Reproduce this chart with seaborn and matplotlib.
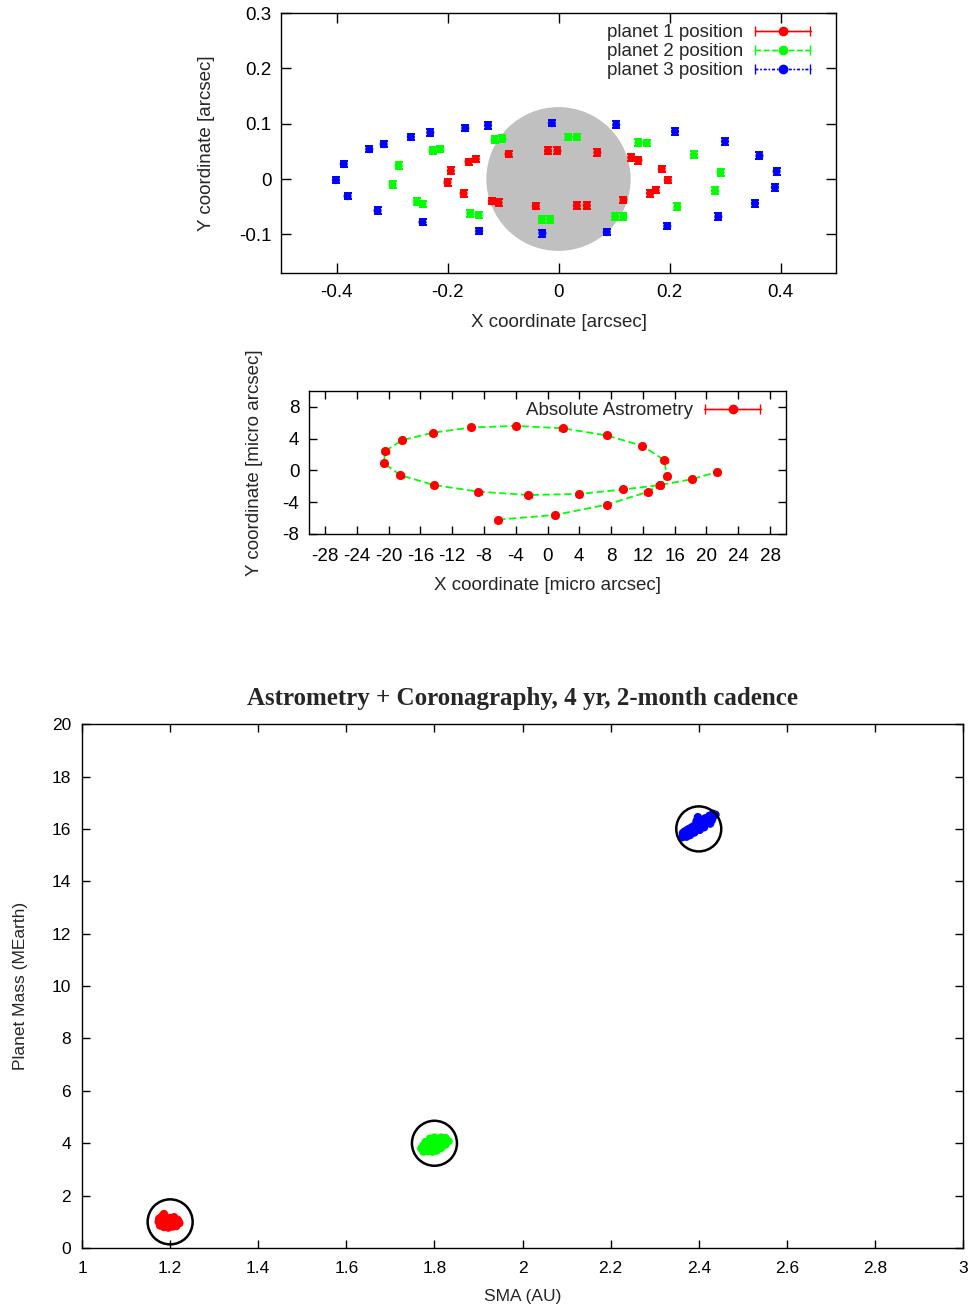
import numpy as np
import pandas as pd
import matplotlib
matplotlib.use("Agg")
import matplotlib.pyplot as plt
import seaborn as sns
from matplotlib.patches import Circle
from matplotlib.ticker import FormatStrFormatter
from matplotlib.container import ErrorbarContainer
from matplotlib.legend_handler import HandlerErrorbar

# ---------------- data: top panel (positions in arcsec) ----------------
p1_x = [-0.090, -0.162, -0.149, -0.194, -0.200, -0.171, -0.120, -0.108, -0.041, -0.019, -0.002,
        0.070, 0.131, 0.144, 0.186, 0.197, 0.165, 0.175, 0.117, 0.033, 0.051]
p1_y = [0.045, 0.031, 0.036, 0.015, -0.006, -0.026, -0.040, -0.043, -0.049, 0.051, 0.051,
        0.048, 0.039, 0.034, 0.018, -0.002, -0.026, -0.020, -0.038, -0.048, -0.048]
p2_x = [-0.227, -0.213, -0.288, -0.299, -0.255, -0.245, -0.159, -0.144, -0.115, -0.101, -0.030,
        -0.015, 0.018, 0.033, 0.144, 0.159, 0.244, 0.292, 0.282, 0.214, 0.102, 0.117]
p2_y = [0.051, 0.054, 0.024, -0.010, -0.041, -0.045, -0.062, -0.065, 0.071, 0.073, -0.073,
        -0.073, 0.076, 0.076, 0.066, 0.065, 0.044, 0.012, -0.021, -0.050, -0.068, -0.068]
p3_x = [-0.401, -0.387, -0.380, -0.341, -0.315, -0.326, -0.266, -0.231, -0.245, -0.168, -0.127,
        -0.143, -0.012, -0.029, 0.104, 0.210, 0.300, 0.362, 0.393, 0.390, 0.354, 0.288, 0.196, 0.087]
p3_y = [-0.002, 0.027, -0.031, 0.054, 0.063, -0.057, 0.076, 0.084, -0.078, 0.092, 0.097,
        -0.094, 0.101, -0.098, 0.098, 0.086, 0.068, 0.042, 0.014, -0.015, -0.044, -0.068, -0.085, -0.096]
pos_err = 0.006
planet_labels = ["planet 1 position", "planet 2 position", "planet 3 position"]

# ---------------- data: middle panel (micro arcsec) ----------------
abs_x = [-6.2, 0.97, 7.5, 12.6, 14.1, 15.0, 14.7, 11.9, 7.45, 1.9, -4.0, -9.6, -14.4, -18.3,
         -20.4, -20.6, -18.5, -14.3, -8.7, -2.4, 4.0, 9.5, 14.1, 18.2, 21.3]
abs_y = [-6.2, -5.6, -4.3, -2.7, -1.85, -0.7, 1.3, 3.1, 4.4, 5.3, 5.6, 5.4, 4.75, 3.8,
         2.45, 0.9, -0.6, -1.84, -2.67, -3.1, -2.96, -2.4, -1.85, -1.1, -0.2]
abs_err_x = 0.4
abs_err_y = 0.35

# ---------------- data: bottom panel (posterior samples) ----------------
red_sma = [1.174, 1.181, 1.190, 1.200, 1.209, 1.217, 1.221, 1.177, 1.186, 1.196, 1.206,
           1.214, 1.219, 1.175, 1.184, 1.194, 1.204, 1.212, 1.186, 1.196, 1.208, 1.182]
red_mass = [1.00, 1.12, 1.17, 1.15, 1.18, 1.08, 0.95, 0.86, 0.80, 0.78, 0.82,
            0.84, 1.02, 1.12, 1.00, 0.95, 1.05, 0.92, 1.30, 0.88, 1.10, 1.22]
green_sma = [1.770, 1.775, 1.785, 1.795, 1.805, 1.815, 1.825, 1.832, 1.825, 1.815, 1.800,
             1.790, 1.780, 1.775, 1.790, 1.800, 1.810, 1.795, 1.810, 1.820, 1.785]
green_mass = [3.80, 3.68, 3.70, 3.68, 3.72, 3.82, 3.95, 4.08, 4.20, 4.22, 4.22,
              4.18, 4.05, 3.92, 3.90, 3.95, 4.05, 3.80, 3.85, 4.10, 4.02]
blue_sma = [2.362, 2.370, 2.378, 2.386, 2.395, 2.404, 2.414, 2.424, 2.432, 2.438, 2.372,
            2.382, 2.392, 2.402, 2.412, 2.422, 2.430, 2.368, 2.378, 2.390, 2.400, 2.410,
            2.420, 2.395, 2.398, 2.432, 2.364, 2.374, 2.384, 2.394, 2.404, 2.414,
            2.424, 2.380, 2.390, 2.402, 2.412, 2.426]
blue_mass = [15.68, 15.80, 15.90, 15.98, 16.08, 16.18, 16.28, 16.38, 16.46, 16.54, 15.70,
             15.82, 15.94, 16.06, 16.16, 16.26, 16.34, 15.90, 16.00, 16.12, 16.24, 16.34,
             16.42, 16.30, 16.45, 16.58, 15.84, 15.96, 16.06, 16.18, 16.30, 16.40,
             16.50, 15.76, 15.86, 15.96, 16.06, 16.20]
true_sma = [1.2, 1.8, 2.4]
true_mass = [1.0, 4.0, 16.0]

# ---------------- style ----------------
sns.set_theme(style="ticks")
plt.rcParams["font.family"] = ["Liberation Sans", "DejaVu Sans"]
plt.rcParams["axes.unicode_minus"] = False
plt.rcParams["axes.edgecolor"] = "black"
plt.rcParams["axes.linewidth"] = 1.0

RED, GREEN, BLUE = "#ff0000", "#00ff00", "#0000ff"
FS = 13.5
FSB = 12.5

fig = plt.figure(figsize=(9.73, 13.04), dpi=100)
ax1 = fig.add_axes([0.2888, 0.7906, 0.5704, 0.1994])
ax2 = fig.add_axes([0.3176, 0.5905, 0.4902, 0.1097])
ax3 = fig.add_axes([0.0843, 0.0429, 0.9055, 0.4018])


def style_ticks(ax, fs, length=6, xpad=8, ypad=7):
    ax.tick_params(direction="in", top=True, right=True, length=length, width=1.0,
                   labelsize=fs, colors="black")
    ax.tick_params(axis="x", pad=xpad)
    ax.tick_params(axis="y", pad=ypad)
    for s in ax.spines.values():
        s.set_visible(True)
        s.set_color("black")
        s.set_linewidth(1.0)


# ---------------- top panel ----------------
ax1.add_patch(Circle((0, 0), 0.13, facecolor="#c0c0c0", edgecolor="none", zorder=0))
top_df = pd.DataFrame({
    "x": p1_x + p2_x + p3_x,
    "y": p1_y + p2_y + p3_y,
    "planet": [planet_labels[0]] * len(p1_x) + [planet_labels[1]] * len(p2_x) + [planet_labels[2]] * len(p3_x),
})
colors = [RED, GREEN, BLUE]
styles = ["-", (0, (4, 2)), (0, (2, 1.5, 1, 1.5))]
handles = []
for lab, col, ls in zip(planet_labels, colors, styles):
    sub = top_df[top_df["planet"] == lab]
    ax1.errorbar(sub["x"], sub["y"], yerr=pos_err, fmt="none", ecolor=col,
                 elinewidth=1.4, capsize=2.7, capthick=1.4, zorder=3)
    proxy = ax1.errorbar([np.nan], [np.nan], xerr=[0.01], fmt="o", linestyle=ls, color=col,
                         ms=6, lw=1.0, elinewidth=1.0, capsize=3.5, capthick=1.0)
    proxy[2][0].set_linestyle(ls)
    handles.append(proxy)
sns.scatterplot(data=top_df, x="x", y="y", hue="planet", palette=colors, s=34,
                linewidth=0, legend=False, ax=ax1, zorder=4)
ax1.set_xlim(-0.5, 0.5)
ax1.set_ylim(-0.17, 0.3)
ax1.set_xticks([-0.4, -0.2, 0, 0.2, 0.4])
ax1.set_yticks([-0.1, 0, 0.1, 0.2, 0.3])
ax1.xaxis.set_major_formatter(FormatStrFormatter("%g"))
ax1.yaxis.set_major_formatter(FormatStrFormatter("%g"))
ax1.set_xlabel("X coordinate [arcsec]", fontsize=FS, labelpad=9)
ax1.set_ylabel("Y coordinate [arcsec]", fontsize=FS, labelpad=17)
style_ticks(ax1, FS, length=7)
ax1.legend(handles=handles, labels=planet_labels, loc="upper right",
           bbox_to_anchor=(1 - 14 / 555, 1.0), frameon=False,
           markerfirst=False, fontsize=FS, handlelength=3.0, handletextpad=0.6,
           labelspacing=0.1, borderaxespad=0.4, borderpad=0.2,
           handler_map={ErrorbarContainer: HandlerErrorbar(xerr_size=1.45)})

# ---------------- middle panel ----------------
mid_df = pd.DataFrame({"x": abs_x, "y": abs_y})
sns.lineplot(data=mid_df, x="x", y="y", sort=False, estimator=None, color=GREEN,
             linestyle=(0, (4, 2)), lw=1.3, ax=ax2, zorder=2)
ax2.errorbar(mid_df["x"], mid_df["y"], xerr=abs_err_x, yerr=abs_err_y, fmt="o", color=RED,
             ms=5.5, elinewidth=1.0, capsize=1.8, capthick=1.0, zorder=3)
mproxy = ax2.errorbar([np.nan], [np.nan], xerr=[1], fmt="o", linestyle="-", color=RED,
                      ms=6, lw=1.0, elinewidth=1.0, capsize=3.5, capthick=1.0)
ax2.set_xlim(-30, 30)
ax2.set_ylim(-8, 10)
ax2.set_xticks(list(range(-28, 29, 4)))
ax2.set_yticks([-8, -4, 0, 4, 8])
ax2.set_xlabel("X coordinate [micro arcsec]", fontsize=FS, labelpad=9)
ax2.set_ylabel("Y coordinate [micro arcsec]", fontsize=FS, labelpad=14)
style_ticks(ax2, FS, length=6, xpad=10)
ax2.legend(handles=[mproxy], labels=["Absolute Astrometry"], loc="upper right",
           bbox_to_anchor=(1 - 14 / 477, 1.0), frameon=False,
           markerfirst=False, fontsize=FS, handlelength=3.0, handletextpad=0.6,
           borderaxespad=0.4, borderpad=0.2,
           handler_map={ErrorbarContainer: HandlerErrorbar(xerr_size=1.45)})

# ---------------- bottom panel ----------------
bot_df = pd.DataFrame({
    "sma": red_sma + green_sma + blue_sma,
    "mass": red_mass + green_mass + blue_mass,
    "planet": ["1"] * len(red_sma) + ["2"] * len(green_sma) + ["3"] * len(blue_sma),
})
sns.scatterplot(data=bot_df, x="sma", y="mass", hue="planet", palette=[RED, GREEN, BLUE],
                s=36, linewidth=0, legend=False, ax=ax3, zorder=3)
ax3.scatter(true_sma, true_mass, s=1050, facecolors="none", edgecolors="black",
            linewidths=1.8, zorder=4)
ax3.set_xlim(1, 3)
ax3.set_ylim(0, 20)
ax3.set_xticks([1, 1.2, 1.4, 1.6, 1.8, 2, 2.2, 2.4, 2.6, 2.8, 3])
ax3.set_yticks(list(range(0, 21, 2)))
ax3.xaxis.set_major_formatter(FormatStrFormatter("%g"))
ax3.set_xlabel("SMA (AU)", fontsize=FSB, labelpad=10)
ax3.set_ylabel("Planet Mass (MEarth)", fontsize=FSB, labelpad=17)
style_ticks(ax3, FSB, length=6, xpad=9, ypad=8)
ax3.set_title("Astrometry + Coronagraphy, 4 yr, 2-month cadence",
              fontsize=18, fontweight="bold", family=["Liberation Serif", "DejaVu Serif"], pad=14)

fig.savefig("out.png", dpi=100)
